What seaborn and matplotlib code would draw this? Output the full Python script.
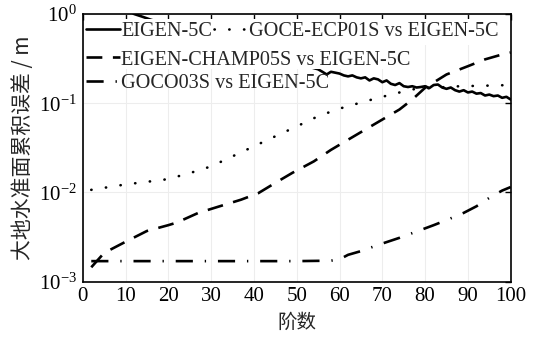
import matplotlib
matplotlib.use("Agg")
import matplotlib.pyplot as plt
import seaborn as sns
import pandas as pd
from matplotlib.lines import Line2D
from matplotlib.patches import Rectangle

# ---------------- data ----------------
deg_eigen = [10, 12, 14, 16, 20, 25, 30, 35, 40, 45, 50, 53,
             55, 56, 57, 58, 59, 60, 61, 62, 63, 64, 65, 66, 67, 68, 69, 70,
             71, 72, 73, 74, 75, 76, 77, 78, 79, 80, 81, 82, 83, 84, 85, 86,
             87, 88, 89, 90, 91, 92, 93, 94, 95, 96, 97, 98, 99, 100]
val_eigen = [1.15, 1.0, 0.93, 0.86, 0.76, 0.66, 0.56, 0.47, 0.40, 0.34, 0.285, 0.255,
             0.24, 0.225, 0.21, 0.225, 0.22, 0.215, 0.205, 0.20, 0.205, 0.195, 0.19, 0.195,
             0.18, 0.19, 0.185, 0.172, 0.18, 0.165, 0.16, 0.168, 0.155, 0.152, 0.155, 0.15,
             0.152, 0.155, 0.148, 0.16, 0.162, 0.15, 0.145, 0.15, 0.14, 0.135, 0.14, 0.132,
             0.135, 0.128, 0.13, 0.122, 0.125, 0.12, 0.122, 0.115, 0.118, 0.11]

deg_goce = [2, 10, 19, 24, 30, 35, 40, 45, 50, 55, 60, 66, 72, 77, 83, 88, 96, 100]
val_goce = [0.0107, 0.0123, 0.0139, 0.0159, 0.0196, 0.0254, 0.0329, 0.0426, 0.055,
            0.0715, 0.087, 0.105, 0.125, 0.143, 0.15, 0.155, 0.158, 0.16]

deg_champ = [2, 5, 10, 15, 20, 22, 27, 32, 37, 41, 45, 49, 54, 58, 62, 66, 70, 74,
             77, 80, 85, 90, 94, 98, 100]
val_champ = [0.00145, 0.0021, 0.0028, 0.0037, 0.0043, 0.0046, 0.0059, 0.007, 0.0083,
             0.0098, 0.0128, 0.0166, 0.0223, 0.030, 0.039, 0.0506, 0.0656, 0.085,
             0.11, 0.149, 0.21, 0.26, 0.31, 0.352, 0.37]

deg_goco = [2, 10, 20, 30, 40, 50, 58, 60, 62, 65, 69, 74, 79, 82, 85, 89, 92, 95, 98, 100]
val_goco = [0.0017, 0.0017, 0.0017, 0.0017, 0.0017, 0.0017, 0.00172, 0.00178, 0.002,
            0.0022, 0.00258, 0.0031, 0.0038, 0.0043, 0.0049, 0.0059, 0.007, 0.0087,
            0.0105, 0.0115]

labels = ["EIGEN-5C", "GOCE-ECP01S vs EIGEN-5C",
          "EIGEN-CHAMP05S vs EIGEN-5C", "GOCO03S vs EIGEN-5C"]
x_ticks = [0, 10, 20, 30, 40, 50, 60, 70, 80, 90, 100]
xlabel = "阶数"
ylabel = "大地水准面累积误差 / m"

# ---------------- style ----------------
sns.set_theme(style="white")
plt.rcParams["font.family"] = ["Liberation Serif", "Noto Sans CJK SC"]
plt.rcParams["mathtext.fontset"] = "stix"

fig = plt.figure(figsize=(5.35, 3.38), dpi=100)
ax = fig.add_axes([0.1546, 0.1666, 0.80, 0.792])

styles = [
    dict(linestyle="-"),
    dict(linestyle=(0, (0.1, 5.5)), dash_capstyle="round"),
    dict(linestyle=(0, (6, 4))),
    dict(linestyle=(0, (6.5, 4.5, 0.5, 4.5))),
]
series = [(deg_eigen, val_eigen), (deg_goce, val_goce),
          (deg_champ, val_champ), (deg_goco, val_goco)]
for (d, v), st, lab in zip(series, styles, labels):
    df = pd.DataFrame({"deg": d, "val": v})
    sns.lineplot(data=df, x="deg", y="val", ax=ax, color="black",
                 linewidth=1.9, **st)

ax.set_yscale("log")
ax.set_xlim(0, 100)
ax.set_ylim(1e-3, 1e0)
ax.set_xticks(x_ticks)
ax.minorticks_off()
ax.tick_params(direction="in", length=4, width=1, top=True, right=True,
               labelsize=15, colors="black", pad=4)
for s in ax.spines.values():
    s.set_color("black")
    s.set_linewidth(1.2)
ax.grid(True, color="#ededed", linewidth=0.8)
ax.set_axisbelow(True)

ax.set_xlabel(xlabel, family=["Noto Sans CJK SC"], fontsize=14, labelpad=4)
ax.set_ylabel(ylabel, family=["Noto Sans CJK SC"], fontsize=15, labelpad=4)

# white background behind the legend rows (covers the curves there)
ax.add_patch(Rectangle((0.006, 0.884), 0.988, 0.097, transform=ax.transAxes,
                       facecolor="white", edgecolor="none", zorder=4))
ax.add_patch(Rectangle((0.006, 0.794), 0.79, 0.092, transform=ax.transAxes,
                       facecolor="white", edgecolor="none", zorder=4))

# legend rows
handles = [Line2D([], [], color="black", linewidth=1.9, **st) for st in styles]
common = dict(frameon=False, fontsize=14.6, handlelength=1.65,
              handletextpad=0.08, columnspacing=0.1, borderpad=0.0,
              borderaxespad=0.0, loc="upper left")
leg1 = ax.legend(handles[0:2], labels[0:2], ncol=2,
                 bbox_to_anchor=(0.008, 0.970), **common)
ax.add_artist(leg1)
leg2 = ax.legend(handles[2:3], labels[2:3],
                 bbox_to_anchor=(0.008, 0.864), **common)
ax.add_artist(leg2)
leg3 = ax.legend(handles[3:4], labels[3:4],
                 bbox_to_anchor=(0.008, 0.775), **common)
for lg in (leg1, leg2, leg3):
    lg.set_zorder(5)

fig.savefig("out.png", dpi=100)
